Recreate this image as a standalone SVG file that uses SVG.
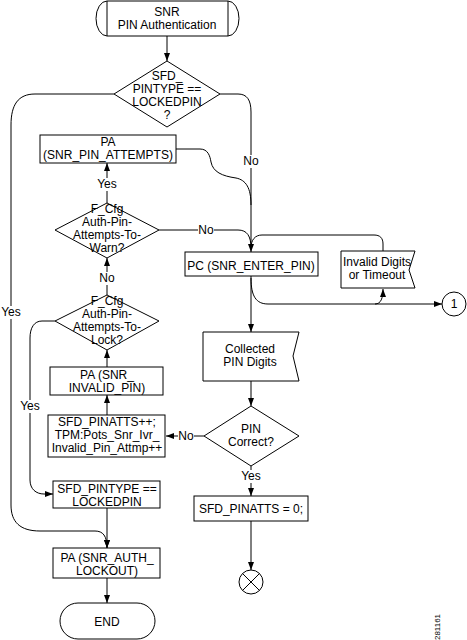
<svg xmlns="http://www.w3.org/2000/svg" width="467" height="640" viewBox="0 0 467 640">
<style>
.s{fill:#fff;stroke:#000;stroke-width:1}
.t{font-family:"Liberation Sans",Arial,sans-serif;font-size:12px;fill:#000;text-anchor:middle}
.c{fill:none;stroke:#000;stroke-width:1}
.a{marker-end:url(#ah)}
.bg{fill:#fff;stroke:none}
</style>
<defs>
<marker id="ah" viewBox="0 0 8 6" refX="8" refY="3" markerWidth="8" markerHeight="6" orient="auto" markerUnits="userSpaceOnUse"><path d="M0,0 L8,3 L0,6 Z" fill="#000"/></marker>
</defs>
<rect width="467" height="640" fill="#fff"/>

<g id="connectors">
<path class="c a" d="M167,36 V61"/>
<path class="c a" d="M114,94 H35 C18,94 11,105 11,125 V505 C11,522 20,531 40,531 H95 C103,531 107,536 107,548"/>
<path class="c a" d="M220,94 H238 C247,94 251,100 251,112 V252"/>
<path class="c" d="M176,149 H200 C208,149 210,156 211,162 C213,172 222,176 236,178 C246,180 251,188 251,205"/>
<path class="c" d="M159,230 H238 C247,230 251,236 251,248"/>
<path class="c" d="M383,251 V244 C383,238 380,235 374,235 H262 C255,235 251,240 251,248"/>
<path class="c a" d="M251,276 V332"/>
<path class="c a" d="M251,278 C251,296 256,304 268,304 H375 C381,304 383,298 383,289"/>
<path class="c a" d="M375,304 H442"/>
<path class="c a" d="M251,381 V406"/>
<path class="c a" d="M204,436 H166"/>
<path class="c a" d="M251,466 V496"/>
<path class="c a" d="M251,521 V570"/>
<path class="c a" d="M107,415 V395"/>
<path class="c a" d="M107,367 V350"/>
<path class="c a" d="M107,295 V258"/>
<path class="c a" d="M107,203 V163"/>
<path class="c a" d="M55,321 H42 C34,321 30,328 30,338 V480 C30,489 36,494 44,494 H53"/>
<path class="c a" d="M107,508 V548"/>
<path class="c a" d="M107,578 V603"/>
<rect class="bg" x="244" y="155" width="15" height="13"/>
<text class="t" x="251" y="165">No</text>
<rect class="bg" x="97" y="178" width="20" height="13"/>
<text class="t" x="107" y="188">Yes</text>
<rect class="bg" x="198" y="223" width="16" height="13"/>
<text class="t" x="206" y="234">No</text>
<rect class="bg" x="99" y="272" width="16" height="13"/>
<text class="t" x="107" y="282">No</text>
<rect class="bg" x="1" y="306" width="21" height="13"/>
<text class="t" x="11" y="316">Yes</text>
<rect class="bg" x="20" y="400" width="21" height="13"/>
<text class="t" x="30" y="410">Yes</text>
<rect class="bg" x="178" y="430" width="16" height="13"/>
<text class="t" x="186" y="440">No</text>
<rect class="bg" x="241" y="470" width="21" height="13"/>
<text class="t" x="251" y="480">Yes</text>
</g>

<g id="start">
<path class="s" d="M107,1 H228 A11,17.5 0 0 1 228,36 H107 A11,17.5 0 0 1 107,1 Z"/>
<path class="c" d="M107,1 V36 M228,1 V36"/>
<text class="t" x="167" y="16">SNR</text>
<text class="t" x="167" y="29">PIN Authentication</text>
</g>

<g id="d_pintype">
<polygon class="s" points="167,61 220,94 167,127 114,94"/>
<text class="t" x="167" y="80">SFD_</text>
<text class="t" x="167" y="93">PINTYPE ==</text>
<text class="t" x="167" y="106">LOCKEDPIN</text>
<text class="t" x="167" y="119">?</text>
</g>

<g id="pa_attempts">
<rect class="s" x="40" y="135" width="136" height="28"/>
<text class="t" x="108" y="146">PA</text>
<text class="t" x="108" y="159">(SNR_PIN_ATTEMPTS)</text>
</g>

<g id="d_warn">
<polygon class="s" points="107,203 159,230 107,258 55,230"/>
<text class="t" x="107" y="213">F_Cfg</text>
<text class="t" x="107" y="226">Auth-Pin-</text>
<text class="t" x="107" y="239">Attempts-To-</text>
<text class="t" x="107" y="252">Warn?</text>
</g>

<g id="pc_enter">
<rect class="s" x="185" y="252" width="133" height="24"/>
<text class="t" x="251" y="270">PC (SNR_ENTER_PIN)</text>
</g>

<g id="invalid">
<path class="s" d="M341,251 H415 L409,270 L415,288 H341 Z"/>
<text class="t" x="377" y="266">Invalid Digits</text>
<text class="t" x="377" y="279">or Timeout</text>
</g>

<g id="conn1">
<circle class="s" cx="454" cy="304" r="12"/>
<text class="t" x="454" y="308">1</text>
</g>

<g id="d_lock">
<polygon class="s" points="107,295 159,321 107,350 55,321"/>
<text class="t" x="107" y="305">F_Cfg</text>
<text class="t" x="107" y="318">Auth-Pin-</text>
<text class="t" x="107" y="331">Attempts-To-</text>
<text class="t" x="107" y="344">Lock?</text>
</g>

<g id="collected">
<path class="s" d="M203,332 H299 L293,356 L299,381 H203 Z"/>
<text class="t" x="250" y="353">Collected</text>
<text class="t" x="250" y="366">PIN Digits</text>
</g>

<g id="pa_invalid">
<rect class="s" x="50" y="367" width="113" height="28"/>
<text class="t" x="107" y="379">PA (SNR_</text>
<text class="t" x="107" y="392">INVALID_PIN)</text>
</g>

<g id="d_correct">
<polygon class="s" points="251,406 299,436 251,466 204,436"/>
<text class="t" x="251" y="433">PIN</text>
<text class="t" x="251" y="446">Correct?</text>
</g>

<g id="pinatts_inc">
<rect class="s" x="48" y="415" width="117" height="42"/>
<text class="t" x="107" y="426">SFD_PINATTS++;</text>
<text class="t" x="107" y="439">TPM:Pots_Snr_Ivr_</text>
<text class="t" x="107" y="452">Invalid_Pin_Attmp++</text>
</g>

<g id="pintype_set">
<rect class="s" x="53" y="481" width="107" height="27"/>
<text class="t" x="107" y="493">SFD_PINTYPE ==</text>
<text class="t" x="107" y="506">LOCKEDPIN</text>
</g>

<g id="pinatts_zero">
<rect class="s" x="194" y="496" width="114" height="25"/>
<text class="t" x="251" y="513">SFD_PINATTS = 0;</text>
</g>

<g id="pa_lockout">
<rect class="s" x="53" y="548" width="107" height="30"/>
<text class="t" x="107" y="562">PA (SNR_AUTH_</text>
<text class="t" x="107" y="575">LOCKOUT)</text>
</g>

<g id="stop">
<circle class="s" cx="251" cy="582" r="12"/>
<path class="c" d="M242.5,573.5 L259.5,590.5 M259.5,573.5 L242.5,590.5"/>
</g>

<g id="end">
<rect class="s" x="60" y="603" width="95" height="36" rx="18" ry="18"/>
<text class="t" x="107" y="626">END</text>
</g>

<text class="t" style="font-size:8px" transform="translate(440,627) rotate(-90)">281161</text>
</svg>
